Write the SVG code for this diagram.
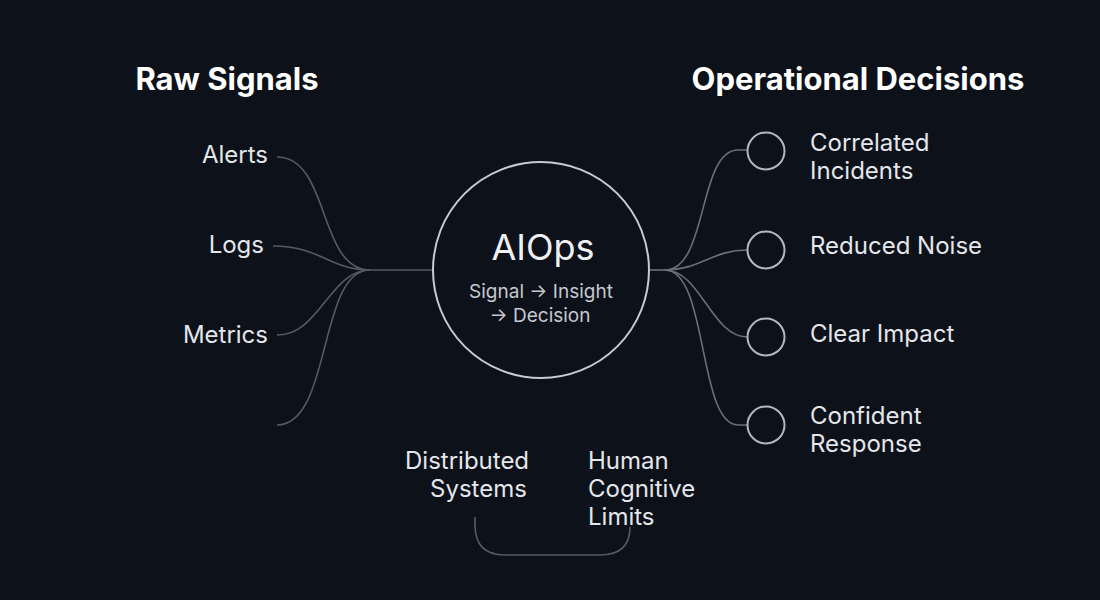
<svg xmlns="http://www.w3.org/2000/svg" width="1100" height="600" viewBox="0 0 1100 600">
<style>
.h{font-family:Inter,"Liberation Sans",sans-serif;font-weight:700;font-size:31px;fill:#ffffff}
.l{font-family:Inter,"Liberation Sans",sans-serif;font-size:24px;fill:#e4e6ea}
.c{fill:none;stroke:#555a63;stroke-width:1.6}
.cr{fill:none;stroke:#6a6f78;stroke-width:1.6}
.dot{fill:none;stroke:#b4b8be;stroke-width:2}
</style>
<rect width="1100" height="600" fill="#0d111a"/>
<text class="h" x="227" y="90" text-anchor="middle">Raw Signals</text>
<text class="h" x="858" y="90" text-anchor="middle">Operational Decisions</text>
<g id="connectors">
<path class="c" d="M277,157 C330,157 318,270 370,270"/>
<path class="c" d="M273,246 C320,246 330,270 370,270"/>
<path class="c" d="M277,335 C320,335 330,270 370,270"/>
<path class="c" d="M277,425 C332,425 318,270 370,270"/>
<path class="c" d="M368,270 H432"/>
<path class="cr" d="M650,270 H665"/>
<path class="cr" d="M665,270 C708,270 698,150 738,150 H747"/>
<path class="cr" d="M665,270 C700,270 712,250 747,250"/>
<path class="cr" d="M665,270 C700,270 712,337 747,337"/>
<path class="cr" d="M665,270 C708,270 698,425 738,425 H747"/>
<path class="c" d="M475,517 V525 Q475,555 505,555 H600 Q630,555 630,527"/>
</g>
<g id="alerts"><text class="l" x="268" y="163" text-anchor="end">Alerts</text></g>
<g id="logs"><text class="l" x="264" y="253" text-anchor="end">Logs</text></g>
<g id="metrics"><text class="l" x="268" y="343" text-anchor="end">Metrics</text></g>
<g id="aiops">
<circle cx="541" cy="270" r="108" fill="#0d111a" stroke="#c8ccd2" stroke-width="2"/>
<text x="543" y="260" text-anchor="middle" font-family="Inter,'Liberation Sans',sans-serif" font-size="36" fill="#eef0f2">AIOps</text>
<text x="541" y="298" text-anchor="middle" font-family="Inter,'Liberation Sans',sans-serif" font-size="19" fill="#c6c9ce">Signal  → Insight</text>
<text x="540" y="322" text-anchor="middle" font-family="Inter,'Liberation Sans',sans-serif" font-size="19" fill="#c6c9ce">→ Decision</text>
</g>
<g id="correlated">
<circle class="dot" cx="766" cy="151" r="18.5"/>
<text class="l" x="810" y="151">Correlated</text>
<text class="l" x="810" y="179">Incidents</text>
</g>
<g id="reduced">
<circle class="dot" cx="766" cy="250" r="18.5"/>
<text class="l" x="810" y="254">Reduced Noise</text>
</g>
<g id="clear">
<circle class="dot" cx="766" cy="337" r="18.5"/>
<text class="l" x="810" y="342">Clear Impact</text>
</g>
<g id="confident">
<circle class="dot" cx="766" cy="425" r="18.5"/>
<text class="l" x="810" y="424">Confident</text>
<text class="l" x="810" y="452">Response</text>
</g>
<g id="distributed">
<text class="l" x="405" y="469">Distributed</text>
<text class="l" x="430" y="497">Systems</text>
</g>
<g id="human">
<text class="l" x="588" y="469">Human</text>
<text class="l" x="588" y="497">Cognitive</text>
<text class="l" x="588" y="525">Limits</text>
</g>
</svg>
